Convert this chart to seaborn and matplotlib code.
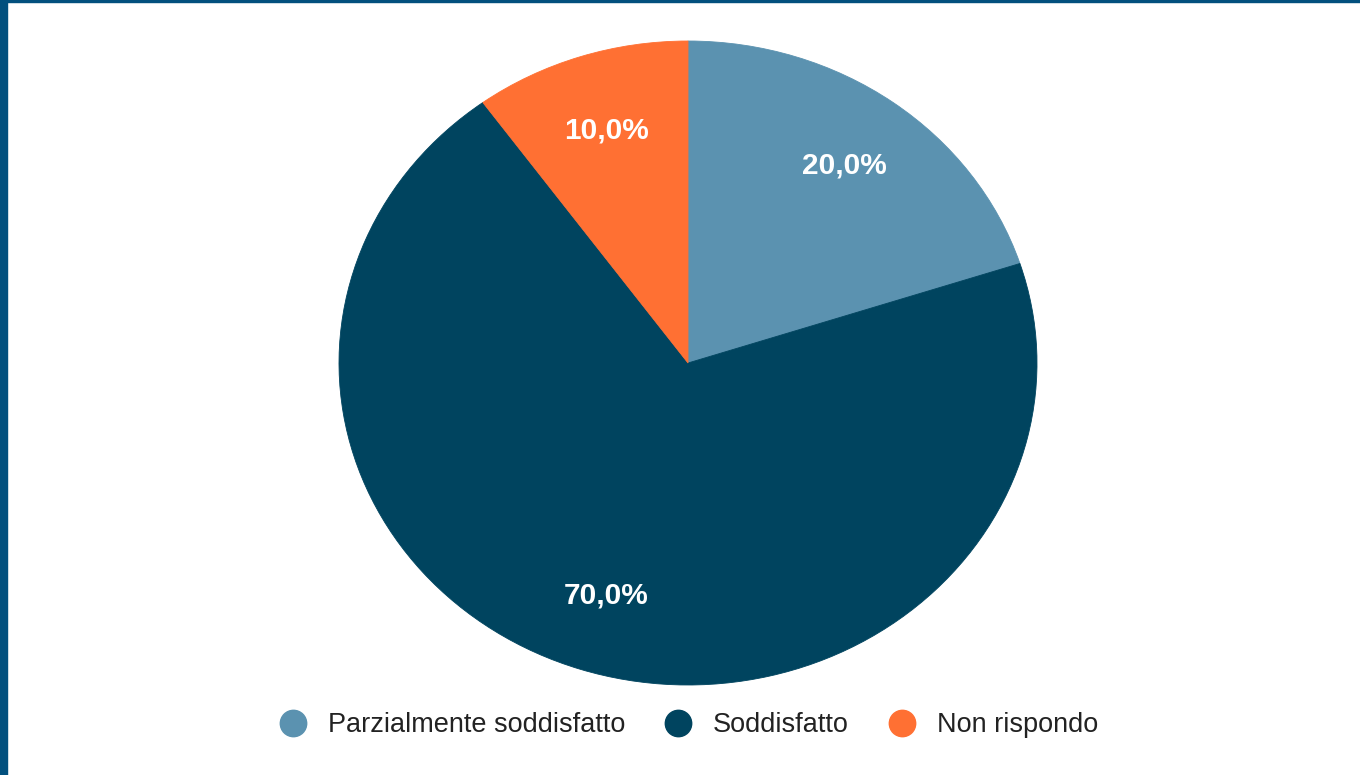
import matplotlib
matplotlib.use("Agg")
import matplotlib.pyplot as plt
from matplotlib.lines import Line2D
from matplotlib.patches import Rectangle
import seaborn as sns

# ── Data ─────────────────────────────────────────────────────────────────────
categories = ["Parzialmente soddisfatto", "Soddisfatto", "Non rispondo"]
shares = [20.0, 70.0, 10.0]
colors = ["#5B92B0", "#00445F", "#FF7033"]

sns.set_style("white")
plt.rcParams["font.family"] = ["Liberation Sans", "DejaVu Sans"]

fig = plt.figure(figsize=(13.6, 7.75), dpi=100)
fig.patch.set_facecolor("white")

# frame on the left and top edges
fig.patches.append(Rectangle((0, 0), 7 / 1360, 1, transform=fig.transFigure,
                             color="#02507E", zorder=10))
fig.patches.append(Rectangle((0, 1 - 2 / 775), 1, 2 / 775, transform=fig.transFigure,
                             color="#02507E", zorder=10))

ax = fig.add_axes([339 / 1360, 90 / 775, 698 / 1360, 644 / 775])
wedges, texts, autotexts = ax.pie(
    shares,
    colors=colors,
    startangle=90,
    counterclock=False,
    autopct=lambda p: f"{p:.1f}%".replace(".", ","),
    pctdistance=0.76,
    textprops=dict(color="white", fontsize=21.5, fontweight="bold"),
)
for w in wedges:
    w.set_edgecolor(w.get_facecolor())
    w.set_linewidth(0.6)
ax.set_aspect("auto")
ax.set_xlim(-1, 1)
ax.set_ylim(-1, 1)
ax.axis("off")

handles = [Line2D([0], [0], marker="o", color="none", markerfacecolor=c,
                  markeredgecolor=c, markersize=19) for c in colors]
fig.legend(handles, categories, loc="center", bbox_to_anchor=(688 / 1360, 1 - 725 / 775),
           ncol=3, frameon=False, fontsize=19.5, handletextpad=0.75,
           columnspacing=1.4, handlelength=1.1, labelcolor="#222222")

fig.savefig("out.png", dpi=100)
